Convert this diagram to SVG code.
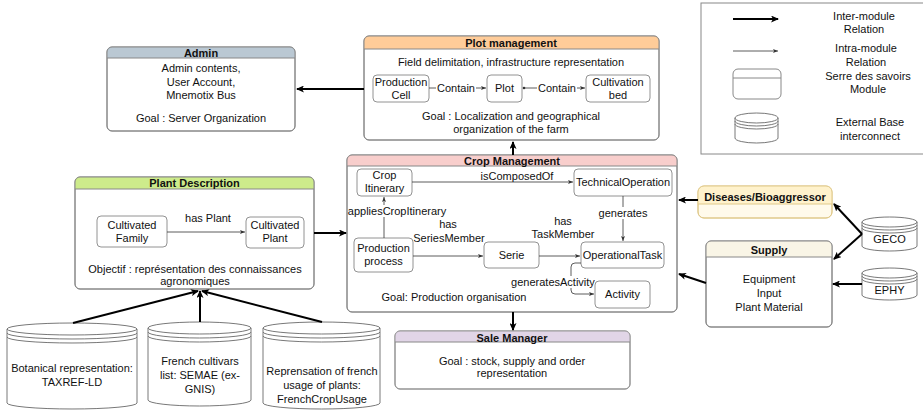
<svg xmlns="http://www.w3.org/2000/svg" width="923" height="411" viewBox="0 0 923 411">
<style>
text{font-family:"Liberation Sans",Arial,sans-serif;font-size:11px;fill:#111;text-anchor:middle}
.t{font-weight:bold}
.box{fill:#fff;stroke:#888;stroke-width:1}
.hd{stroke:none}
.sep{stroke:#888;stroke-width:1}
.in{fill:#fff;stroke:#777;stroke-width:0.8}
.cyl{fill:#fff;stroke:#555;stroke-width:0.8}
.thick{fill:none;stroke:#000;stroke-width:2}
.thin{fill:none;stroke:#333;stroke-width:0.8}
.bg{fill:#fff}
</style>
<defs>
<marker id="ah" markerUnits="userSpaceOnUse" markerWidth="8" markerHeight="7" refX="7" refY="3.5" orient="auto"><path d="M0,0 L8,3.5 L0,7 L2,3.5 z" fill="#000"/></marker>
<marker id="as" markerUnits="userSpaceOnUse" markerWidth="5" markerHeight="4" refX="5" refY="2" orient="auto"><path d="M0,0 L5,2 L0,4 L1.2,2 z" fill="#333"/></marker>
</defs>

<g id="legend">
<rect x="701" y="3" width="230" height="151" fill="#fff" stroke="#888"/>
<path d="M733,19 L778,19" class="thick" marker-end="url(#ah)"/>
<text x="864" y="20">Inter-module</text><text x="864" y="33">Relation</text>
<path d="M733,51 L778,51" class="thin" marker-end="url(#as)"/>
<text x="866" y="52">Intra-module</text><text x="866" y="66">Relation</text>
<rect x="733" y="69" width="48" height="30" rx="5" class="box" stroke="#777"/>
<line x1="733" y1="78" x2="781" y2="78" class="sep"/>
<text x="868" y="80">Serre des savoirs</text><text x="868" y="93">Module</text>
<path d="M735,118 A21.5,5 0 0 1 778,118 L778,138 A21.5,5 0 0 1 735,138 Z" class="cyl"/>
<path d="M735,118 A21.5,5 0 0 0 778,118 M735,121 A21.5,5 0 0 0 778,121 M735,124 A21.5,5 0 0 0 778,124" class="cyl" fill="none"/>
<text x="870" y="126">External Base</text><text x="870" y="140">interconnect</text>
</g>

<g id="admin">
<rect x="107" y="47" width="188" height="84" rx="5" class="box"/>
<path d="M107,58 L107,52 Q107,47 112,47 L290,47 Q295,47 295,52 L295,58 Z" fill="#bac8d3" class="hd"/>
<rect x="107" y="47" width="188" height="84" rx="5" fill="none" stroke="#888"/>
<line x1="107" y1="58" x2="295" y2="58" class="sep"/>
<text x="201" y="57" class="t">Admin</text>
<text x="201" y="72">Admin contents,</text>
<text x="201" y="86">User Account,</text>
<text x="201" y="99">Mnemotix Bus</text>
<text x="201" y="122">Goal : Server Organization</text>
</g>

<g id="plot-management">
<rect x="364" y="36" width="295" height="104" rx="5" class="box"/>
<path d="M364,49 L364,41 Q364,36 369,36 L654,36 Q659,36 659,41 L659,49 Z" fill="#ffcc99" class="hd"/>
<rect x="364" y="36" width="295" height="104" rx="5" fill="none" stroke="#888"/>
<line x1="364" y1="49" x2="659" y2="49" class="sep"/>
<text x="511" y="47" class="t">Plot management</text>
<text x="511" y="66">Field delimitation, infrastructure representation</text>
<text x="511" y="120">Goal : Localization and geographical</text>
<text x="511" y="133">organization of the farm</text>
</g>
<g id="production-cell"><rect x="373" y="75" width="56" height="27" rx="4" class="in"/><text x="401" y="86">Production</text><text x="401" y="99">Cell</text></g>
<g id="plot"><rect x="487" y="75" width="35" height="27" rx="4" class="in"/><text x="504.5" y="92">Plot</text></g>
<g id="cultivation-bed"><rect x="586" y="75" width="64" height="27" rx="4" class="in"/><text x="618" y="86">Cultivation</text><text x="618" y="99">bed</text></g>

<g id="crop-management">
<rect x="347" y="155" width="330" height="157" rx="5" class="box"/>
<path d="M347,166 L347,160 Q347,155 352,155 L672,155 Q677,155 677,160 L677,166 Z" fill="#f8cecc" class="hd"/>
<rect x="347" y="155" width="330" height="157" rx="5" fill="none" stroke="#888"/>
<line x1="347" y1="166" x2="677" y2="166" class="sep"/>
<text x="512" y="165" class="t">Crop Management</text>
<text x="454" y="301">Goal: Production organisation</text>
</g>
<g id="crop-itinerary"><rect x="357" y="169" width="55" height="27" rx="4" class="in"/><text x="384.5" y="179">Crop</text><text x="384.5" y="192">Itinerary</text></g>
<g id="technical-operation"><rect x="574" y="169" width="98" height="27" rx="4" class="in"/><text x="623" y="186">TechnicalOperation</text></g>
<g id="production-process"><rect x="354" y="238" width="59" height="34" rx="4" class="in"/><text x="383.5" y="252">Production</text><text x="383.5" y="265">process</text></g>
<g id="serie"><rect x="484" y="242" width="55" height="26" rx="4" class="in"/><text x="511.5" y="259">Serie</text></g>
<g id="operational-task"><rect x="581" y="242" width="83" height="26" rx="4" class="in"/><text x="622.5" y="259">OperationalTask</text></g>
<g id="activity"><rect x="595" y="281" width="55" height="27" rx="4" class="in"/><text x="622.5" y="298">Activity</text></g>

<g id="plant-description">
<rect x="75" y="177" width="239" height="112" rx="5" class="box"/>
<path d="M75,189 L75,182 Q75,177 80,177 L309,177 Q314,177 314,182 L314,189 Z" fill="#cdeb8b" class="hd"/>
<rect x="75" y="177" width="239" height="112" rx="5" fill="none" stroke="#888"/>
<line x1="75" y1="189" x2="314" y2="189" class="sep"/>
<text x="194.5" y="187" class="t">Plant Description</text>
<text x="195" y="273">Objectif : représentation des connaissances</text>
<text x="195" y="285">agronomiques</text>
</g>
<g id="cultivated-family"><rect x="97" y="216" width="70" height="31" rx="4" class="in"/><text x="132" y="229">Cultivated</text><text x="132" y="242">Family</text></g>
<g id="cultivated-plant"><rect x="246" y="217" width="58" height="31" rx="4" class="in"/><text x="275" y="229">Cultivated</text><text x="275" y="242">Plant</text></g>

<g id="sale-manager">
<rect x="395" y="331" width="235" height="58" rx="5" class="box"/>
<path d="M395,342 L395,336 Q395,331 400,331 L625,331 Q630,331 630,336 L630,342 Z" fill="#e1d5e7" class="hd"/>
<rect x="395" y="331" width="235" height="58" rx="5" fill="none" stroke="#999"/>
<line x1="395" y1="342" x2="630" y2="342" class="sep"/>
<text x="512" y="342" class="t">Sale Manager</text>
<text x="512" y="365">Goal : stock, supply and order</text>
<text x="512" y="377">representation</text>
</g>

<g id="diseases">
<rect x="698" y="186" width="134" height="32" rx="6" fill="#fffaeb" stroke="#e0c98a"/>
<path d="M698,204 L698,192 Q698,186 704,186 L826,186 Q832,186 832,192 L832,204 Z" fill="#fff2cc" class="hd"/>
<rect x="698" y="186" width="134" height="32" rx="6" fill="none" stroke="#e0c98a"/>
<line x1="698" y1="204" x2="832" y2="204" stroke="#e0c98a"/>
<text x="765" y="201" class="t">Diseases/Bioaggressor</text>
</g>

<g id="supply">
<rect x="706" y="241" width="126" height="86" rx="5" class="box"/>
<path d="M706,257 L706,246 Q706,241 711,241 L827,241 Q832,241 832,246 L832,257 Z" fill="#f9f5e6" class="hd"/>
<rect x="706" y="241" width="126" height="86" rx="5" fill="none" stroke="#888"/>
<line x1="706" y1="257" x2="832" y2="257" class="sep"/>
<text x="769" y="254" class="t">Supply</text>
<text x="769" y="283">Equipment</text>
<text x="769" y="297">Input</text>
<text x="769" y="311">Plant Material</text>
</g>

<g id="geco">
<path d="M862,222 A27.5,5 0 0 1 917,222 L917,246 A27.5,5 0 0 1 862,246 Z" class="cyl"/>
<path d="M862,222 A27.5,5 0 0 0 917,222 M862,225 A27.5,5 0 0 0 917,225 M862,228 A27.5,5 0 0 0 917,228" class="cyl" fill="none"/>
<text x="889.5" y="243">GECO</text>
</g>
<g id="ephy">
<path d="M862,273 A27.5,5 0 0 1 917,273 L917,295 A27.5,5 0 0 1 862,295 Z" class="cyl"/>
<path d="M862,273 A27.5,5 0 0 0 917,273 M862,276 A27.5,5 0 0 0 917,276 M862,279 A27.5,5 0 0 0 917,279" class="cyl" fill="none"/>
<text x="889.5" y="294">EPHY</text>
</g>

<g id="taxref">
<path d="M7,329 A65,6 0 0 1 137,329 L137,403 A65,6 0 0 1 7,403 Z" class="cyl"/>
<path d="M7,329 A65,6 0 0 0 137,329 M7,333 A65,6 0 0 0 137,333 M7,337 A65,6 0 0 0 137,337" class="cyl" fill="none"/>
<text x="72" y="372">Botanical representation:</text>
<text x="72" y="386">TAXREF-LD</text>
</g>
<g id="semae">
<path d="M148,328 A51.5,6 0 0 1 251,328 L251,400 A51.5,6 0 0 1 148,400 Z" class="cyl"/>
<path d="M148,328 A51.5,6 0 0 0 251,328 M148,332 A51.5,6 0 0 0 251,332 M148,336 A51.5,6 0 0 0 251,336" class="cyl" fill="none"/>
<text x="200" y="365">French cultivars</text>
<text x="200" y="379">list: SEMAE (ex-</text>
<text x="200" y="393">GNIS)</text>
</g>
<g id="frenchcropusage">
<path d="M263,328 A58.5,6 0 0 1 380,328 L380,403 A58.5,6 0 0 1 263,403 Z" class="cyl"/>
<path d="M263,328 A58.5,6 0 0 0 380,328 M263,332 A58.5,6 0 0 0 380,332 M263,336 A58.5,6 0 0 0 380,336" class="cyl" fill="none"/>
<text x="322" y="375">Reprensation of french</text>
<text x="322" y="389">usage of plants:</text>
<text x="322" y="403">FrenchCropUsage</text>
</g>

<g id="connectors">
<path d="M364,89 L297,89" class="thick" marker-end="url(#ah)"/>
<path d="M513,155 L513,142" class="thick" marker-end="url(#ah)"/>
<path d="M314,233 L346,233" class="thick" marker-end="url(#ah)"/>
<path d="M513,312 L513,330" class="thick" marker-end="url(#ah)"/>
<path d="M698,200 L679,200" class="thick" marker-end="url(#ah)"/>
<path d="M706,283 L679,274" class="thick" marker-end="url(#ah)"/>
<path d="M862,234 L834,204" class="thick" marker-end="url(#ah)"/>
<path d="M862,234 L834,259" class="thick" marker-end="url(#ah)"/>
<path d="M862,284 L833,284" class="thick" marker-end="url(#ah)"/>
<path d="M73,323 L198,291" class="thick" marker-end="url(#ah)"/>
<path d="M200,322 L200,291" class="thick" marker-end="url(#ah)"/>
<path d="M322,322 L202,291" class="thick" marker-end="url(#ah)"/>

<path d="M429,88 L486,88" class="thin" marker-end="url(#as)"/>
<path d="M524,88 L585,88" class="thin" marker-end="url(#as)"/>
<circle cx="524" cy="88" r="1.3" fill="#333"/>
<path d="M412,182 L573,182" class="thin" marker-end="url(#as)"/>
<path d="M384,238 L384,197" class="thin" marker-end="url(#as)"/>
<path d="M413,256 L483,256" class="thin" marker-end="url(#as)"/>
<path d="M539,256 L580,256" class="thin" marker-end="url(#as)"/>
<path d="M623,196 L623,241" class="thin" marker-end="url(#as)"/>
<path d="M581,263 L575,263 Q571,263 571,267 L571,290 Q571,294 575,294 L594,294" class="thin" marker-end="url(#as)"/>
<path d="M167,232 L245,232" class="thin" marker-end="url(#as)"/>

<rect x="436" y="82" width="40" height="12" class="bg"/><text x="456" y="92">Contain</text>
<rect x="537" y="82" width="40" height="12" class="bg"/><text x="557" y="92">Contain</text>
<text x="517" y="180">isComposedOf</text>
<rect x="351" y="205" width="92" height="12" class="bg"/><text x="397" y="215">appliesCropItinerary</text>
<text x="448" y="228">has</text><text x="449" y="242">SeriesMember</text>
<text x="563" y="225">has</text><text x="563" y="238">TaskMember</text>
<rect x="599" y="207" width="48" height="12" class="bg"/><text x="623" y="217">generates</text>
<rect x="513" y="276" width="80" height="12" class="bg"/><text x="553" y="286">generatesActivity</text>
<text x="208" y="222">has Plant</text>
</g>
</svg>
